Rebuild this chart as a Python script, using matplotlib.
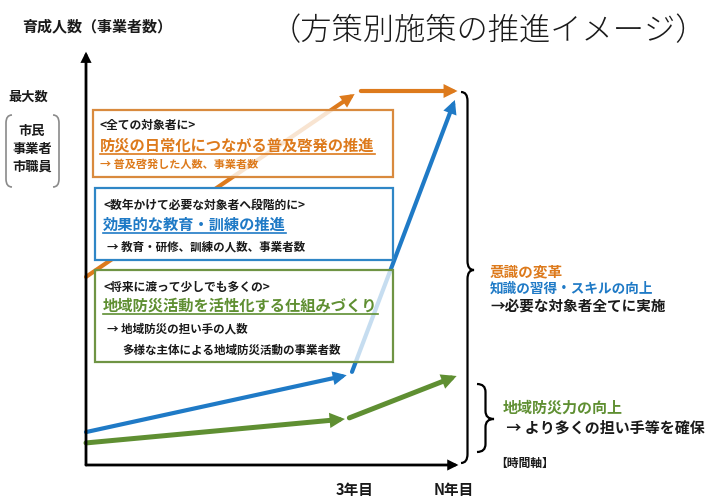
import matplotlib
matplotlib.use("Agg")
import matplotlib.pyplot as plt
import matplotlib.transforms as mtransforms
from matplotlib.path import Path
from matplotlib.patches import PathPatch, Rectangle

plt.rcParams['font.family'] = ['Noto Sans CJK JP', 'DejaVu Sans']

# --- data (x: years, 3 = 3年目 ; y: 育成人数, 100 = 最大数) ---
orange_x = [[0.0, 3.03], [3.1, 4.19]]
orange_y = [[50.3, 99.2], [100.0, 100.0]]
blue_x = [[0.0, 2.94], [3.0, 4.16]]
blue_y = [[8.8, 24.0], [24.9, 97.6]]
green_x = [[0.0, 2.92], [2.97, 4.18]]
green_y = [[5.9, 12.3], [12.6, 23.8]]
year_ticks = [3.03, 4.15]
year_labels = ["3年目", "N年目"]

C_OR = "#dd7a1c"
C_BL = "#1f7ac6"
C_GR = "#5f8f32"
C_TX = "#1a1a1a"

W, H = 710, 498
fig = plt.figure(figsize=(W / 100, H / 100), dpi=100)
ax = fig.add_axes([0, 0, 1, 1])
# chart units: x=0 -> px 86, x=3 -> px 352 ; y=0 -> px 465, y=100 -> px 91
ux = (352 - 86) / 3.0
uy = (465 - 91) / 100.0
ax.set_xlim(-86 / ux, (W - 86) / ux)
ax.set_ylim(-(H - 465) / uy, 465 / uy)
ax.axis("off")

# pixel transform (origin top-left)
px = mtransforms.Affine2D().scale(1 / W, -1 / H).translate(0, 1) + fig.transFigure


def arrow(x0, y0, x1, y1, color, lw, ms=14, z=2):
    ax.annotate("", xy=(x1, y1), xytext=(x0, y0),
                arrowprops=dict(arrowstyle="-|>", color=color, lw=lw, shrinkA=0, shrinkB=0,
                                mutation_scale=ms, joinstyle="miter"),
                zorder=z)


# axes arrows
arrow(0, 0, 0, 110.5, "black", 2.0, ms=12, z=5)
arrow(0, 0, 4.2, 0, "black", 2.0, ms=12, z=5)

for xs, ys, c, lw in [(orange_x, orange_y, C_OR, 3.0),
                      (blue_x, blue_y, C_BL, 3.0),
                      (green_x, green_y, C_GR, 3.6)]:
    for sx, sy in zip(xs, ys):
        arrow(sx[0], sy[0], sx[1], sy[1], c, lw, ms=13)

for xt, lab in zip(year_ticks, year_labels):
    ax.text(xt, -6.7, lab, ha="center", va="center", fontsize=10.5, weight="bold", color=C_TX)


# boxes
def box(x0, y0, x1, y1, ec, alpha):
    ax.add_patch(Rectangle((x0, y0), x1 - x0, y1 - y0, transform=px, facecolor="white",
                           alpha=alpha, edgecolor="none", zorder=3))
    ax.add_patch(Rectangle((x0, y0), x1 - x0, y1 - y0, transform=px, facecolor="none",
                           edgecolor=ec, lw=1.6, zorder=4))


box(93, 110, 393, 177, "#d98a3e", 0.8)
box(95, 188, 393, 260, "#2f86c6", 1.0)
box(95, 270, 393, 362, "#6f9444", 0.75)

texts = []


def t(x, y, s, size, color=C_TX, weight="bold", ha="left", under=False, **kw):
    tx = ax.text(x, y, s, transform=px, fontsize=size, color=color, weight=weight,
                 ha=ha, va="center", zorder=6, **kw)
    if under:
        texts.append((tx, y, color))
    return tx


# orange box
t(100, 125, "<全ての対象者に>", 8.5)
t(100, 146, "防災の日常化につながる普及啓発の推進", 11, C_OR, under=True)
t(100, 164, "→ 普及啓発した人数、事業者数", 8, C_OR)
# blue box
t(103, 205, "<数年かけて必要な対象者へ段階的に>", 8.5)
t(103, 225, "効果的な教育・訓練の推進", 11, C_BL, under=True)
t(107, 247, "→ 教育・研修、訓練の人数、事業者数", 8.3)
# green box
t(103, 287, "<将来に渡って少しでも多くの>", 8.5)
t(103, 306, "地域防災活動を活性化する仕組みづくり", 11, C_GR, under=True)
t(107, 329, "→ 地域防災の担い手の人数", 8.3)
t(122, 350, "多様な主体による地域防災活動の事業者数", 8.3)

# left labels
t(22, 26, "育成人数（事業者数）", 10.8)
t(28, 97, "最大数", 9.5, ha="center")
t(32, 131, "市民", 9.5, ha="center")
t(32, 149, "事業者", 9.5, ha="center")
t(32, 167, "市職員", 9.5, ha="center")

# title
t(707, 31, "（方策別施策の推進イメージ）", 22.5, weight="light", ha="right")

# right side
t(490, 271, "意識の変革", 10.5, C_OR)
t(490, 289, "知識の習得・スキルの向上", 9.8, C_BL)
t(490, 307, "→必要な対象者全てに実施", 10.5)
t(503, 408, "地域防災力の向上", 10.8, C_GR)
t(503, 427, " → より多くの担い手等を確保", 10.8)
t(495, 463, "【時間軸】", 8.5)


# braces
def brace(x0, y0, y1, ym, w, r, lw=1.6, color="black"):
    xm = x0 + w / 2
    verts = [(x0, y0), (xm, y0), (xm, y0 + r),
             (xm, ym - r), (xm, ym), (x0 + w, ym),
             (xm, ym), (xm, ym + r),
             (xm, y1 - r), (xm, y1), (x0, y1)]
    codes = [Path.MOVETO, Path.CURVE3, Path.CURVE3,
             Path.LINETO, Path.CURVE3, Path.CURVE3,
             Path.CURVE3, Path.CURVE3,
             Path.LINETO, Path.CURVE3, Path.CURVE3]
    ax.add_patch(PathPatch(Path(verts, codes), transform=px, fill=False,
                           lw=lw, edgecolor=color, zorder=5))


brace(461, 92, 463, 270, 13, 9)
brace(477, 384, 452, 419, 17, 8)


def bracket(x, y0, y1, d, color="#8a8a8a"):
    verts = [(x + d, y0), (x, y0), (x, y0 + 8), (x, y1 - 8), (x, y1), (x + d, y1)]
    codes = [Path.MOVETO, Path.CURVE3, Path.CURVE3, Path.LINETO, Path.CURVE3, Path.CURVE3]
    ax.add_patch(PathPatch(Path(verts, codes), transform=px, fill=False,
                           lw=1.2, edgecolor=color, zorder=5))


bracket(6, 115, 187, 6)
bracket(59, 115, 187, -6)

# underline headings
fig.canvas.draw()
r = fig.canvas.get_renderer()
for tx, y, c in texts:
    bb = tx.get_window_extent(r)
    ax.plot([bb.x0, bb.x1], [y + 8, y + 8], transform=px, color=c, lw=1.2, zorder=6)

fig.savefig("out.png", dpi=100)
